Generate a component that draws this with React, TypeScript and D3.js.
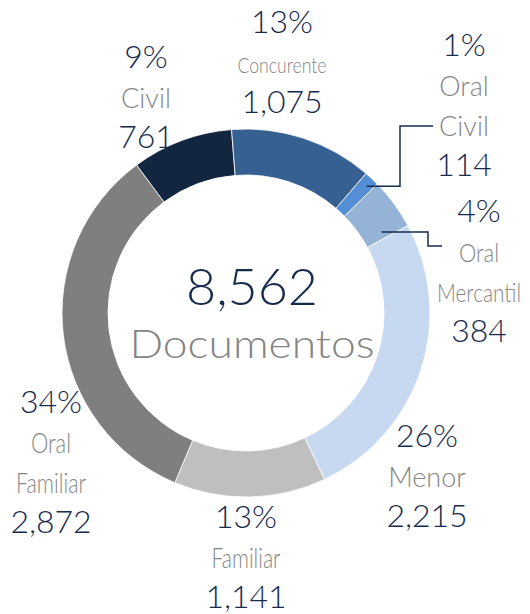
import React from "react";
import * as d3 from "d3";

// categories in clockwise order, starting with Civil
const categories = ["Civil", "Concurente", "Oral Civil", "Oral Mercantil", "Menor", "Familiar", "Oral Familiar"];
const values = [761, 1075, 114, 384, 2215, 1141, 2872];
const colors = ["#12263F", "#376092", "#558ED5", "#95B3D7", "#C6D9F1", "#BFBFBF", "#7F7F7F"];
const totalLabel = "Documentos";

// label placement: block center x, first baseline, condensed widths of the name lines (0 = natural)
const labelLayout = [
  { x: 146, y: 68, nameSize: 27, widths: [0] },
  { x: 282, y: 33, nameSize: 21, widths: [89] },
  { x: 464, y: 56, nameSize: 27, widths: [0, 0] },
  { x: 479, y: 222, nameSize: 26, widths: [40, 84] },
  { x: 427, y: 447, nameSize: 27, widths: [0] },
  { x: 246, y: 528, nameSize: 27, widths: [69] },
  { x: 51, y: 413, nameSize: 27, widths: [40, 70] },
];

// leader lines: start (polar, degrees from top), elbow x, end
const leaders = [
  { i: 2, angle: 43.6, r: 175, elbowX: 400, endY: 126, endX: 433 },
  { i: 3, angle: 59.2, r: 158, elbowX: 428, endY: 246, endX: 442 },
];

const W = 530;
const H = 614;
const cx = 246;
const cy = 313;
const outerR = 184;
const innerR = 138;
const lineGap = 40;
const navy = "#172B4D";
const gray = "#858585";
const font = "Lato, 'DejaVu Sans', sans-serif";

export default function App() {
  const total = d3.sum(values);
  const rad = (deg: number) => (deg * Math.PI) / 180;
  const pie = d3
    .pie<number>()
    .sort(null)
    .startAngle(rad(-36.5))
    .endAngle(rad(323.5));
  const arcs = pie(values);
  const arc = d3.arc<d3.PieArcDatum<number>>().innerRadius(innerR).outerRadius(outerR);
  const pct = d3.format(".0%");
  const num = d3.format(",");

  return (
    <svg width={W} height={H} style={{ position: "absolute", left: 0, top: 0 }} fontFamily={font} fontWeight={300}>
      <g transform={`translate(${cx},${cy})`}>
        {arcs.map((a, i) => (
          <path key={i} d={arc(a) || ""} fill={colors[i]} stroke="#fff" strokeWidth={0.8} />
        ))}
      </g>

      {leaders.map((l, k) => {
        const sx = cx + l.r * Math.sin(rad(l.angle));
        const sy = cy - l.r * Math.cos(rad(l.angle));
        const pts: [number, number][] = [
          [sx, sy],
          [l.elbowX, sy],
          [l.elbowX, l.endY],
          [l.endX, l.endY],
        ];
        return <path key={k} d={d3.line()(pts) || ""} fill="none" stroke={navy} strokeWidth={1.5} />;
      })}

      {categories.map((c, i) => {
        const lay = labelLayout[i];
        const names = c.split(" ");
        const lines: { t: string; kind: string; w: number }[] = [
          { t: pct(values[i] / total), kind: "v", w: 0 },
          ...names.map((n, k) => ({ t: n, kind: "n", w: lay.widths[k] || 0 })),
          { t: num(values[i]), kind: "v", w: 0 },
        ];
        return (
          <g key={i}>
            {lines.map((ln, k) => (
              <text
                key={k}
                x={lay.x}
                y={lay.y + k * lineGap}
                textAnchor="middle"
                fill={ln.kind === "v" ? navy : gray}
                fontSize={ln.kind === "v" ? 32 : lay.nameSize}
                {...(ln.w
                  ? { textLength: ln.w, lengthAdjust: "spacingAndGlyphs" }
                  : {})}
              >
                {ln.t}
              </text>
            ))}
          </g>
        );
      })}

      <text x={252} y={305} textAnchor="middle" fill={navy} fontSize={52}>
        {num(total)}
      </text>
      <text
        x={252}
        y={358}
        textAnchor="middle"
        fill={gray}
        fontSize={39}
        textLength={245}
        lengthAdjust="spacingAndGlyphs"
      >
        {totalLabel}
      </text>
    </svg>
  );
}
